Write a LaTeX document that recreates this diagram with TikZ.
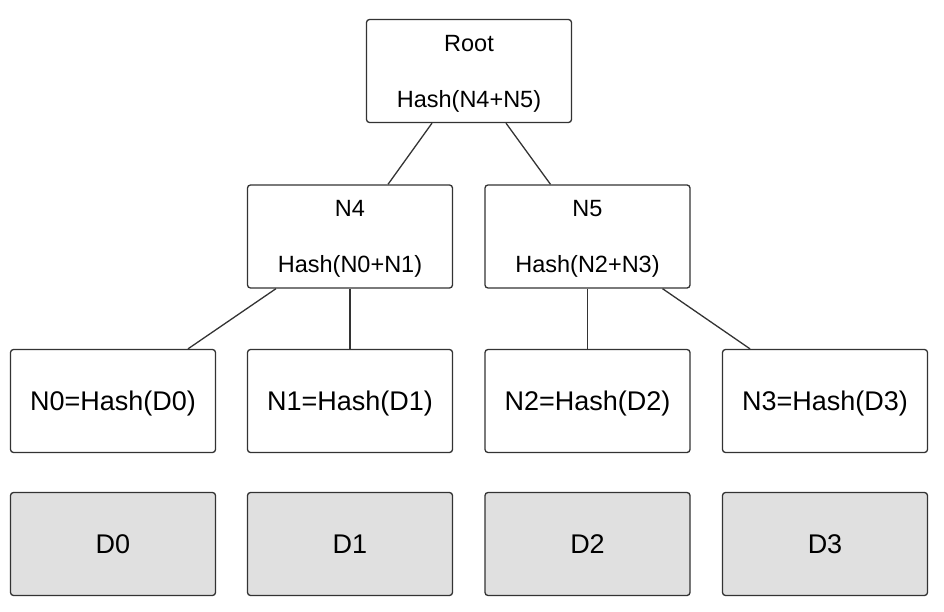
\documentclass[tikz,border=0pt]{standalone}
\usepackage{fontspec}
\setmainfont{Liberation Sans}
\begin{document}
\begin{tikzpicture}[x=1pt,y=-1pt,
  hashbox/.style={draw=black!80,line width=1.3pt,rounded corners=3pt,minimum width=205pt,
    minimum height=103pt,inner sep=0pt,align=center,text depth=0pt,
    font=\fontsize{23.5}{28}\selectfont},
  leafbox/.style={hashbox,font=\fontsize{27}{32}\selectfont},
  databox/.style={leafbox,fill=black!12},
  link/.style={line width=1.3pt,draw=black!80}]
\useasboundingbox (0,0) rectangle (944,612);
\node[hashbox] (root) at (469,71) {Root\\[28pt]Hash(N4+N5)};
\node[hashbox] (n4) at (350,236.5) {N4\\[28pt]Hash(N0+N1)};
\node[hashbox] (n5) at (587.5,236.5) {N5\\[28pt]Hash(N2+N3)};
\foreach \i/\x in {0/113,1/350,2/587.5,3/825}
    { \node[leafbox] (n\i) at (\x,401) {N\i=Hash(D\i)};
      \node[databox] (d\i) at (\x,544) {D\i}; }
\draw[link] ([xshift=-37pt]root.south) -- ([xshift=38pt]n4.north);
\draw[link] ([xshift=37pt]root.south) -- ([xshift=-37pt]n5.north);
\draw[link] ([xshift=-74pt]n4.south) -- ([xshift=75pt]n0.north);
\draw[link] (n4.south) -- (n1.north);
\draw[link] (n5.south) -- (n2.north);
\draw[link] ([xshift=75pt]n5.south) -- ([xshift=-75pt]n3.north);
\end{tikzpicture}
\end{document}
